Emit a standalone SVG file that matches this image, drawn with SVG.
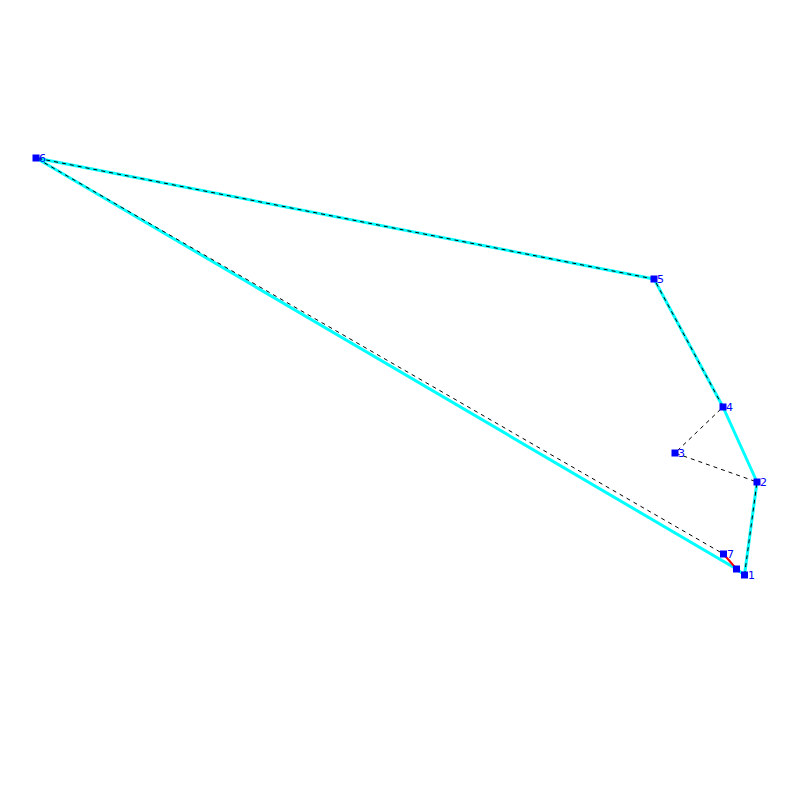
<svg xmlns="http://www.w3.org/2000/svg" width="800" height="800" viewBox="0 0 800 800">
<style>
.hull{fill:none;stroke:#00ffff;stroke-width:3;stroke-linejoin:round}
.path{fill:none;stroke:#000;stroke-width:1;stroke-dasharray:4,4}
.red{fill:none;stroke:#ff0000;stroke-width:2}
.pt{fill:#0000ff}
.lbl{fill:#0000ff;font-family:"DejaVu Sans",sans-serif;font-size:11px}
</style>
<rect width="800" height="800" fill="#fff"/>
<g id="connectors">
<polygon class="hull" points="36,158 654,279 723,407 757,482 744.5,575 736.5,569"/>
<polyline class="path" points="744.5,575 757,482 675,453 723,407 654,279 36,158 723.5,554"/>
<line class="red" x1="723.5" y1="554" x2="736.5" y2="569"/>
</g>
<g id="node1"><rect class="pt" x="741" y="571.5" width="7" height="7"/><text class="lbl" x="748" y="579">1</text></g>
<g id="node2"><rect class="pt" x="753.5" y="478.5" width="7" height="7"/><text class="lbl" x="760" y="486">2</text></g>
<g id="node3"><rect class="pt" x="671.5" y="449.5" width="7" height="7"/><text class="lbl" x="678" y="457">3</text></g>
<g id="node4"><rect class="pt" x="719.5" y="403.5" width="7" height="7"/><text class="lbl" x="726" y="411">4</text></g>
<g id="node5"><rect class="pt" x="650.5" y="275.5" width="7" height="7"/><text class="lbl" x="657" y="283">5</text></g>
<g id="node6"><rect class="pt" x="32.5" y="154.5" width="7" height="7"/><text class="lbl" x="39" y="162">6</text></g>
<g id="node7"><rect class="pt" x="720" y="550.5" width="7" height="7"/><text class="lbl" x="727" y="558">7</text></g>
<g id="node8"><rect class="pt" x="733" y="565.5" width="7" height="7"/></g>
</svg>
